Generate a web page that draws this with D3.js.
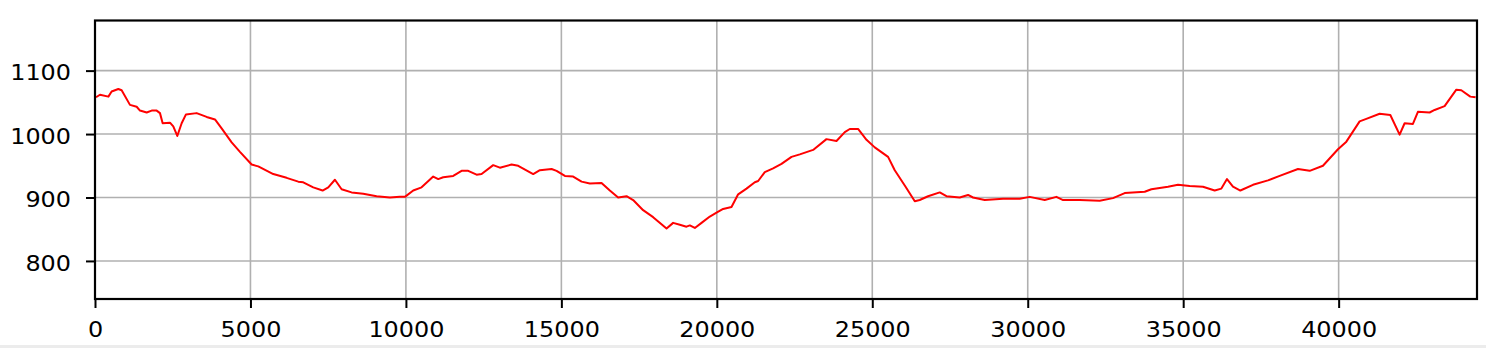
<!DOCTYPE html>
<html>
<head>
<meta charset="utf-8">
<script src="https://cdn.jsdelivr.net/npm/d3@7"></script>
<style>
  html, body { margin: 0; padding: 0; background: #fff; }
  svg { display: block; }
  .tick text { font-family: "DejaVu Sans", sans-serif; font-size: 22px; fill: #000; }
</style>
</head>
<body>
<div id="chart"></div>
<script>
// elevation profile (distance, height)
var distance = [32, 160, 430, 535, 750, 857, 1125, 1340, 1447, 1662, 1823, 1983, 2090, 2176, 2411, 2518, 2647, 2787, 2926, 3269,
  3591, 3859, 4073, 4395, 4662, 5038, 5251, 5734, 6163, 6538, 6698, 7020, 7321, 7503, 7717, 7932, 8253, 8628, 9057, 9486,
  9807, 9968, 10236, 10504, 10878, 11040, 11200, 11522, 11790, 12003, 12273, 12434, 12808, 13022, 13398, 13612, 14094, 14309, 14685, 14846,
  15113, 15380, 15649, 15916, 16292, 16559, 16826, 17096, 17309, 17630, 17952, 18383, 18595, 18810, 19025, 19132, 19293, 19508, 19775, 19990,
  20203, 20472, 20686, 20955, 21222, 21329, 21543, 21810, 22080, 22402, 22669, 23097, 23527, 23849, 24116, 24277, 24543, 24814, 25080, 25508,
  25723, 26045, 26367, 26527, 26794, 27170, 27386, 27813, 28080, 28241, 28617, 29206, 29743, 30064, 30547, 30922, 31136, 31672, 32315, 32743,
  33119, 33762, 33977, 34511, 34833, 35209, 35637, 36013, 36228, 36409, 36601, 36839, 37245, 37727, 38103, 38692, 39068, 39495, 39979, 40248,
  40675, 40890, 41318, 41662, 41961, 42122, 42389, 42550, 42926, 43087, 43408, 43785, 43945, 44234, 44405];
var height = [1058, 1062, 1059, 1067, 1071, 1069, 1046, 1043, 1037, 1034, 1037, 1037, 1033, 1017, 1018, 1012, 997, 1017, 1031, 1033,
  1027, 1023, 1009, 987, 972, 952, 949, 937, 931, 925, 924, 916, 911, 916, 928, 913, 908, 906, 902, 900,
  901, 901, 911, 916, 933, 929, 932, 934, 942, 942, 936, 937, 951, 947, 952, 950, 937, 943, 945, 942,
  934, 933, 925, 922, 923, 911, 900, 902, 896, 880, 869, 851, 860, 857, 854, 856, 852, 860, 870, 876,
  882, 885, 905, 914, 924, 926, 940, 946, 953, 964, 968, 975, 992, 989, 1003, 1008, 1008, 991, 979, 964,
  943, 919, 894, 896, 902, 908, 902, 900, 904, 900, 896, 898, 898, 901, 896, 901, 896, 896, 895, 899,
  907, 909, 913, 917, 920, 918, 917, 911, 914, 929, 917, 911, 920, 927, 934, 945, 942, 950, 976, 988,
  1020, 1024, 1032, 1030, 999, 1017, 1016, 1035, 1034, 1038, 1044, 1070, 1069, 1059, 1058];
var xTicks = [0, 5000, 10000, 15000, 20000, 25000, 30000, 35000, 40000];
var yTicks = [800, 900, 1000, 1100];

var profile = distance.map(function(d, i) { return {x: d, y: height[i]}; });

var W = 1486, H = 348;
var margin = {top: 20.5, right: 9, bottom: 49, left: 95};
var w = W - margin.left - margin.right,
    h = H - margin.top - margin.bottom;

var svg = d3.select("#chart").append("svg")
    .attr("width", W)
    .attr("height", H);

// light strip along the bottom edge of the picture
svg.append("rect")
    .attr("x", 0).attr("y", H - 3)
    .attr("width", W).attr("height", 3)
    .attr("fill", "#ececec");

var x = d3.scaleLinear().domain([0, 44450]).range([0, w]);
var y = d3.scaleLinear().domain([740, 1179]).range([h, 0]);

var g = svg.append("g")
    .attr("transform", "translate(" + margin.left + "," + margin.top + ")");

// grid
g.selectAll(".vgrid").data(xTicks).enter().append("line")
    .attr("x1", function(d) { return x(d); })
    .attr("x2", function(d) { return x(d); })
    .attr("y1", 0).attr("y2", h)
    .attr("stroke", "#b0b0b0").attr("stroke-width", 1.6);
g.selectAll(".hgrid").data(yTicks).enter().append("line")
    .attr("x1", 0).attr("x2", w)
    .attr("y1", function(d) { return y(d); })
    .attr("y2", function(d) { return y(d); })
    .attr("stroke", "#b0b0b0").attr("stroke-width", 1.6);

// the line
var line = d3.line()
    .x(function(d) { return x(d.x); })
    .y(function(d) { return y(d.y); });

g.append("path")
    .datum(profile)
    .attr("fill", "none")
    .attr("stroke", "#ff0000")
    .attr("stroke-width", 2)
    .attr("stroke-linejoin", "round")
    .attr("d", line);

// axes
var xAxis = g.append("g")
    .attr("transform", "translate(0," + h + ")")
    .call(d3.axisBottom(x).tickValues(xTicks).tickFormat(d3.format("d")).tickSizeOuter(0).tickSize(9).tickPadding(13));
var yAxis = g.append("g")
    .call(d3.axisLeft(y).tickValues(yTicks).tickFormat(d3.format("d")).tickSizeOuter(0).tickSize(9).tickPadding(15));

[xAxis, yAxis].forEach(function(a) {
  a.select(".domain").remove();
  a.selectAll(".tick line").attr("stroke", "#000").attr("stroke-width", 2);
  // the picture's labels are a little wider than plain DejaVu
  a.selectAll(".tick text")
    .attr("textLength", function(d) { return String(d).length * 15.2; })
    .attr("lengthAdjust", "spacingAndGlyphs");
});
yAxis.selectAll(".tick text").attr("dy", "0.42em");

// frame
g.append("rect")
    .attr("x", 0).attr("y", 0)
    .attr("width", w).attr("height", h)
    .attr("fill", "none")
    .attr("stroke", "#000")
    .attr("stroke-width", 2.2);
</script>
</body>
</html>
